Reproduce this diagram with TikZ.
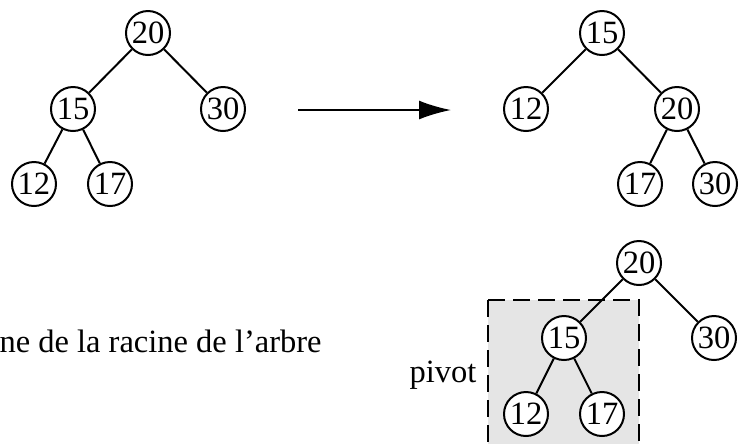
\documentclass[tikz,border=0pt]{standalone}
\usepackage{fontspec}
\setmainfont{Liberation Serif}
\usetikzlibrary{arrows.meta}
\begin{document}
\begin{tikzpicture}[x=0.4pt,y=-0.4pt,
  nd/.style={circle,draw,fill=white,line width=0.8pt,minimum size=17.6pt,inner sep=0pt,font=\fontsize{13}{15}\selectfont},
  ln/.style={line width=0.8pt},
  pivotbox/.style={line width=0.8pt,dash pattern=on 6.8pt off 3.2pt},
  lbl/.style={inner sep=0pt,font=\fontsize{13}{15}\selectfont}]
\useasboundingbox (0,0) rectangle (740,443);
\clip (0,0) rectangle (740,443);

% initial tree
\node[nd] (a20) at (148,33) {20};
\node[nd] (a15) at (73,109) {15};
\node[nd] (a30) at (223,109) {30};
\node[nd] (a12) at (34,184) {12};
\node[nd] (a17) at (110,184) {17};
\draw[ln] (a20) -- (a15) (a20) -- (a30) (a15) -- (a12) (a15) -- (a17);

% arrow to the rotated tree
\coordinate (as) at (298,110);
\coordinate (ae) at (451,110);
\draw[ln,-{Latex[length=12.8pt,width=7.6pt]}] (as) -- (ae);

% tree after right rotation
\node[nd] (b15) at (602,33) {15};
\node[nd] (b12) at (526,109) {12};
\node[nd] (b20) at (677,109) {20};
\node[nd] (b17) at (640,184) {17};
\node[nd] (b30) at (715,184) {30};
\draw[ln] (b15) -- (b12) (b15) -- (b20) (b20) -- (b17) (b20) -- (b30);

% caption line
\node[lbl,anchor=base west] (cap) at (-1,352) {ne de la racine de l’arbre};

% pivot subtree highlighted
\coordinate (tl) at (488,300);
\coordinate (tr) at (639,300);
\coordinate (bl) at (488,460);
\coordinate (br) at (639,460);
\fill[gray!20] (tl) rectangle (br);
\draw[pivotbox] (tl) -- (bl);
\draw[pivotbox] (tl) -- (tr) -- (br);
\node[lbl,anchor=base east] (pv) at (477,382) {pivot};

\node[nd] (c20) at (639,263) {20};
\node[nd] (c15) at (564,338) {15};
\node[nd] (c30) at (714,338) {30};
\node[nd] (c12) at (526,414) {12};
\node[nd] (c17) at (602,414) {17};
\draw[ln] (c20) -- (c15) (c20) -- (c30) (c15) -- (c12) (c15) -- (c17);
\end{tikzpicture}
\end{document}
